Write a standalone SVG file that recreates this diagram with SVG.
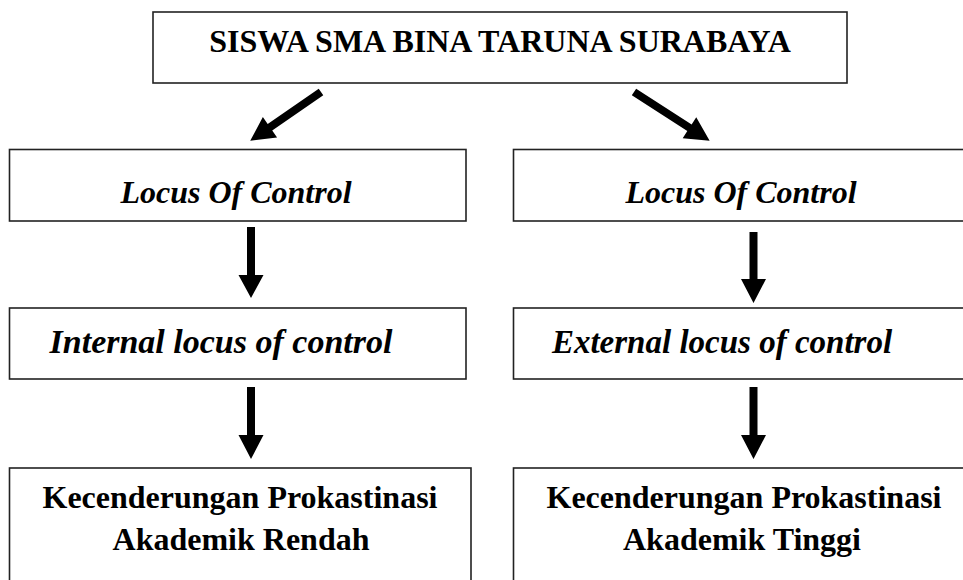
<svg xmlns="http://www.w3.org/2000/svg" width="963" height="580" viewBox="0 0 963 580">
<style>
.box{fill:#fff;stroke:#222;stroke-width:1.6}
.t{font-family:"Liberation Serif","Times New Roman",Times,serif;font-weight:bold;font-size:32px;fill:#000;text-anchor:middle}
.i{font-style:italic}
.arr{fill:#000}
</style>
<rect width="963" height="580" fill="#fff"/>
<g id="top"><rect class="box" x="153" y="12" width="694" height="71"/><text class="t" x="500" y="52">SISWA SMA BINA TARUNA SURABAYA</text></g>
<g id="loc-left"><rect class="box" x="9.5" y="149.5" width="456.5" height="71.5"/><text class="t i" x="236" y="203">Locus Of Control</text></g>
<g id="loc-right"><rect class="box" x="513.5" y="149.5" width="460" height="71.5"/><text class="t i" x="741" y="203">Locus Of Control</text></g>
<g id="internal"><rect class="box" x="9.5" y="308" width="456.5" height="71"/><text class="t i" x="221" y="353" style="font-size:34px">Internal locus of control</text></g>
<g id="external"><rect class="box" x="513.5" y="308" width="460" height="71"/><text class="t i" x="722" y="353" style="font-size:33px">External locus of control</text></g>
<g id="rendah"><rect class="box" x="9.5" y="468" width="461.5" height="140"/><text class="t" x="240" y="508">Kecenderungan Prokastinasi</text><text class="t" x="241" y="550">Akademik Rendah</text></g>
<g id="tinggi"><rect class="box" x="513.5" y="468" width="460" height="140"/><text class="t" x="744" y="508">Kecenderungan Prokastinasi</text><text class="t" x="742" y="550">Akademik Tinggi</text></g>
<g id="connectors" class="arr">
<path transform="translate(321,92) rotate(145.4)" d="M0,-4 L62,-4 L62,-12.5 L86,0 L62,12.5 L62,4 L0,4 Z"/>
<path transform="translate(634,92) rotate(32.8)" d="M0,-4 L66,-4 L66,-12.5 L90,0 L66,12.5 L66,4 L0,4 Z"/>
<polygon points="247,227 255,227 255,275 263.5,275 251,298 238.5,275 247,275"/>
<polygon points="749.5,232 757.5,232 757.5,279 766,279 753.5,303 741,279 749.5,279"/>
<polygon points="247,387 255,387 255,435 263.5,435 251,459 238.5,435 247,435"/>
<polygon points="749.5,387 757.5,387 757.5,435 766,435 753.5,459 741,435 749.5,435"/>
</g>
</svg>
